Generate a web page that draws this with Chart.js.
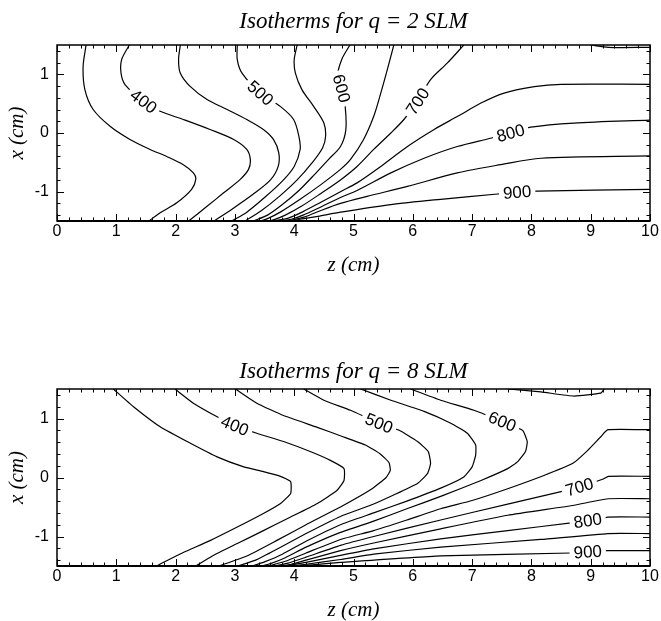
<!DOCTYPE html>
<html><head><meta charset="utf-8">
<script src="https://cdn.jsdelivr.net/npm/chart.js@4"></script>
<style>
html,body{margin:0;padding:0;background:#fff;}
#wrap{position:relative;width:661px;height:621px;background:#fff;}
.box{position:absolute;left:0;width:661px;}
</style></head><body>
<div id="wrap">
<div class="box" style="top:0;height:310px"><canvas id="c1"></canvas></div>
<div class="box" style="top:310px;height:311px"><canvas id="c2"></canvas></div>
</div>
<script>
// ---------- axis ticks ----------
const xTicks = [0,1,2,3,4,5,6,7,8,9,10];
const yTicks = [-1,0,1];

// ---------- q = 2 SLM isotherms (z, x) ----------
const q2_350 = [[0.49,1.5],[0.44,1.13],[0.47,0.74],[0.61,0.40],[0.90,0.11],[1.23,-0.11],[1.57,-0.28],[1.85,-0.40],[2.13,-0.54],[2.30,-0.68],[2.34,-0.79],[2.27,-0.96],[2.02,-1.19],[1.74,-1.36],[1.55,-1.5]];
const q2_400 = [[1.22,1.5],[1.09,1.25],[1.08,1.02],[1.15,0.82],[1.46,0.54],[1.74,0.37],[2.13,0.23],[2.58,0.06],[2.98,-0.11],[3.20,-0.28],[3.26,-0.45],[3.23,-0.62],[3.09,-0.79],[2.81,-1.02],[2.53,-1.25],[2.22,-1.5]];
const q2_450 = [[2.08,1.5],[2.05,1.25],[2.08,1.02],[2.25,0.79],[2.53,0.57],[2.87,0.40],[3.20,0.23],[3.48,0.06],[3.65,-0.11],[3.74,-0.34],[3.73,-0.57],[3.6,-0.8],[3.3,-1.05],[2.95,-1.3],[2.65,-1.5]];
const q2_500 = [[3.04,1.5],[3.04,1.25],[3.12,1.02],[3.43,0.68],[3.77,0.45],[3.99,0.23],[4.08,-0.06],[4.1,-0.28],[4.0,-0.57],[3.8,-0.82],[3.5,-1.1],[3.2,-1.35],[2.95,-1.5]];
const q2_550 = [[4.05,1.5],[4.0,1.25],[4.02,1.02],[4.13,0.74],[4.33,0.45],[4.50,0.17],[4.53,-0.05],[4.48,-0.25],[4.30,-0.51],[4.05,-0.8],[3.75,-1.08],[3.45,-1.32],[3.17,-1.5]];
const q2_600 = [[4.94,1.5],[4.80,1.25],[4.73,0.96],[4.80,0.76],[4.86,0.45],[4.87,0.05],[4.78,-0.23],[4.58,-0.45],[4.35,-0.7],[4.08,-0.98],[3.8,-1.22],[3.55,-1.4],[3.31,-1.5]];
const q2_650 = [[5.68,1.5],[5.57,1.08],[5.46,0.68],[5.34,0.28],[5.17,-0.11],[4.95,-0.45],[4.78,-0.62],[4.45,-0.88],[4.1,-1.13],[3.78,-1.34],[3.55,-1.46],[3.43,-1.5]];
const q2_700 = [[6.86,1.5],[6.58,1.19],[6.30,0.91],[6.08,0.54],[5.85,0.23],[5.63,0.0],[5.34,-0.28],[5.06,-0.57],[4.78,-0.8],[4.45,-1.03],[4.12,-1.25],[3.85,-1.4],[3.65,-1.48],[3.55,-1.5]];
const q2_750 = [[10,0.83],[8.50,0.83],[8.05,0.79],[7.54,0.68],[7.15,0.51],[6.75,0.28],[6.36,0.06],[5.91,-0.23],[5.46,-0.57],[5.06,-0.85],[4.78,-1.0],[4.45,-1.18],[4.15,-1.34],[3.9,-1.45],[3.65,-1.5]];
const q2_800 = [[10,0.22],[8.72,0.17],[7.99,0.10],[7.65,0.0],[7.31,-0.09],[6.75,-0.23],[6.19,-0.43],[5.63,-0.68],[5.06,-0.98],[4.78,-1.1],[4.45,-1.26],[4.15,-1.4],[3.95,-1.47],[3.77,-1.5]];
const q2_850 = [[10,-0.39],[8.16,-0.43],[7.48,-0.54],[6.75,-0.68],[5.91,-0.91],[5.23,-1.08],[4.78,-1.2],[4.45,-1.32],[4.18,-1.43],[3.89,-1.5]];
const q2_900 = [[10,-0.96],[8.10,-0.99],[7.76,-1.01],[7.43,-1.04],[6.47,-1.13],[5.63,-1.22],[4.78,-1.35],[4.4,-1.42],[4.1,-1.47],[3.97,-1.5]];
const q2_edge = [[9.0,1.5],[9.3,1.46],[10,1.46]];

const q2LabelText = ['400','500','600','700','800','900'];
const q2LabelZ = [1.46,3.43,4.80,6.08,7.65,7.76];
const q2LabelX = [0.54,0.68,0.76,0.54,0.0,-1.01];

// ---------- q = 8 SLM isotherms (z, x) ----------
const q8_350 = [[0.95,1.5],[1.29,1.2],[1.74,0.86],[2.25,0.58],[2.70,0.35],[3.15,0.18],[3.48,0.10],[3.77,0.02],[3.94,-0.07],[3.94,-0.27],[3.77,-0.44],[3.48,-0.61],[3.04,-0.84],[2.58,-1.07],[2.13,-1.27],[1.85,-1.41],[1.68,-1.5]];
const q8_400 = [[1.99,1.5],[2.30,1.26],[2.70,1.03],[3.0,0.88],[3.37,0.75],[3.82,0.61],[4.27,0.44],[4.61,0.29],[4.84,0.15],[4.84,-0.05],[4.72,-0.22],[4.39,-0.44],[3.94,-0.67],[3.48,-0.90],[3.04,-1.12],[2.62,-1.33],[2.34,-1.5]];
const q8_450 = [[3.01,1.5],[3.37,1.26],[3.82,1.05],[4.39,0.85],[4.8,0.7],[5.2,0.55],[5.45,0.4],[5.6,0.25],[5.62,0.12],[5.55,0.0],[5.3,-0.2],[4.78,-0.5],[4.2,-0.8],[3.7,-1.07],[3.2,-1.33],[2.73,-1.5]];
const q8_500 = [[4.16,1.5],[4.50,1.31],[4.95,1.14],[5.43,0.92],[5.77,0.80],[6.08,0.61],[6.26,0.44],[6.30,0.24],[6.25,0.07],[6.08,-0.10],[5.34,-0.45],[4.78,-0.66],[4.2,-0.95],[3.7,-1.22],[3.35,-1.4],[3.05,-1.5]];
const q8_550 = [[5.12,1.5],[5.63,1.31],[6.19,1.12],[6.64,0.92],[6.92,0.75],[7.06,0.55],[7.06,0.38],[7.0,0.18],[6.86,0.01],[6.47,-0.18],[5.9,-0.4],[5.34,-0.6],[4.78,-0.8],[4.2,-1.08],[3.8,-1.3],[3.5,-1.43],[3.3,-1.5]];
const q8_600 = [[5.96,1.5],[6.47,1.31],[7.03,1.14],[7.51,0.95],[7.85,0.80],[7.93,0.61],[7.90,0.44],[7.77,0.27],[7.6,0.15],[7.15,-0.05],[6.47,-0.32],[5.9,-0.53],[5.34,-0.74],[4.78,-0.93],[4.2,-1.18],[3.85,-1.36],[3.6,-1.46],[3.45,-1.5]];
const q8_650 = [[10,0.81],[9.29,0.81],[9.17,0.69],[8.95,0.46],[8.7,0.24],[8.2,0.03],[7.6,-0.19],[7.0,-0.39],[6.47,-0.53],[5.9,-0.72],[5.34,-0.9],[4.78,-1.05],[4.2,-1.28],[3.85,-1.42],[3.57,-1.5]];
const q8_700 = [[10,0.02],[9.3,0.02],[9.2,-0.03],[8.81,-0.16],[8.5,-0.24],[7.6,-0.45],[6.47,-0.72],[5.34,-1.0],[4.78,-1.15],[4.2,-1.35],[3.9,-1.45],[3.67,-1.5]];
const q8_750 = [[10,-0.36],[9.29,-0.36],[8.72,-0.47],[7.6,-0.64],[6.47,-0.87],[5.34,-1.11],[4.78,-1.24],[4.2,-1.4],[3.95,-1.47],[3.76,-1.5]];
const q8_800 = [[10,-0.67],[9.29,-0.67],[9.2,-0.69],[8.95,-0.73],[8.67,-0.77],[7.6,-0.9],[6.47,-1.04],[5.34,-1.21],[4.78,-1.32],[4.2,-1.44],[3.84,-1.5]];
const q8_850 = [[10,-0.95],[9.29,-0.95],[8.16,-1.05],[6.47,-1.18],[5.34,-1.3],[4.78,-1.39],[4.2,-1.47],[3.91,-1.5]];
const q8_900 = [[10,-1.24],[9.29,-1.24],[8.95,-1.26],[8.67,-1.28],[6.47,-1.33],[4.78,-1.44],[4.3,-1.48],[3.97,-1.5]];
const q8_edge = [[7.6,1.5],[8.16,1.45],[8.72,1.38],[9.17,1.43],[9.23,1.5]];

const q8LabelText = ['400','500','600','700','800','900'];
const q8LabelZ = [3.0,5.43,7.51,8.81,8.95,8.95];
const q8LabelX = [0.88,0.92,0.95,-0.16,-0.73,-1.26];

// ---------- build ----------
const q2Lines = [q2_350,q2_400,q2_450,q2_500,q2_550,q2_600,q2_650,q2_700,q2_750,q2_800,q2_850,q2_900,q2_edge];
const q2LabelLines = [q2_400,q2_500,q2_600,q2_700,q2_800,q2_900];
const q8Lines = [q8_350,q8_400,q8_450,q8_500,q8_550,q8_600,q8_650,q8_700,q8_750,q8_800,q8_850,q8_900,q8_edge];
const q8LabelLines = [q8_400,q8_500,q8_600,q8_700,q8_800,q8_900];

const SANS = '"Liberation Sans", Arial, Helvetica, sans-serif';
const SERIF = '"Liberation Serif", "Times New Roman", Times, serif';

const framePlugin = {
  id: 'frame',
  afterDatasetsDraw(chart, args, opts) {
    const ctx = chart.ctx, a = chart.chartArea, xs = chart.scales.x, ys = chart.scales.y;
    // contour labels
    ctx.save();
    ctx.font = '17px ' + SANS;
    opts.labels.forEach(L => {
      const px = xs.getPixelForValue(L.z), py = ys.getPixelForValue(L.x);
      const pts = L.line.map(p => [xs.getPixelForValue(p[0]), ys.getPixelForValue(p[1])]);
      let best = 0, bd = Infinity;
      pts.forEach((p, i) => { const d = (p[0]-px)**2 + (p[1]-py)**2; if (d < bd) { bd = d; best = i; } });
      const p0 = pts[Math.max(0, best-1)], p1 = pts[Math.min(pts.length-1, best+1)];
      let ang = Math.atan2(p1[1]-p0[1], p1[0]-p0[0]);
      if (ang > Math.PI/2) ang -= Math.PI;
      if (ang <= -Math.PI/2) ang += Math.PI;
      ctx.save();
      ctx.translate(px, py);
      ctx.rotate(ang);
      const w = ctx.measureText(L.text).width;
      ctx.fillStyle = '#fff';
      ctx.fillRect(-w/2 - 4, -8.5, w + 8, 17);
      ctx.fillStyle = '#000';
      ctx.textAlign = 'center';
      ctx.textBaseline = 'middle';
      ctx.fillText(L.text, 0, 1);
      ctx.restore();
    });
    ctx.restore();
    // inward ticks
    ctx.save();
    ctx.strokeStyle = '#000';
    ctx.lineWidth = 1;
    ctx.beginPath();
    for (let i = 0; i <= 50; i++) {
      const px = Math.round(xs.getPixelForValue(i/5)) + 0.5;
      const len = (i % 5 === 0) ? 7 : 3.5;
      ctx.moveTo(px, a.bottom); ctx.lineTo(px, a.bottom - len);
      ctx.moveTo(px, a.top); ctx.lineTo(px, a.top + len);
    }
    for (let i = -7; i <= 7; i++) {
      const py = Math.round(ys.getPixelForValue(i/5)) + 0.5;
      const len = (i % 5 === 0) ? 7 : 3.5;
      ctx.moveTo(a.left, py); ctx.lineTo(a.left + len, py);
      ctx.moveTo(a.right, py); ctx.lineTo(a.right - len, py);
    }
    ctx.stroke();
    ctx.lineWidth = 1.5;
    ctx.strokeRect(a.left, a.top, a.right - a.left, a.bottom - a.top);
    ctx.lineWidth = 2;
    ctx.beginPath(); ctx.moveTo(a.left, a.bottom); ctx.lineTo(a.right, a.bottom); ctx.stroke();
    ctx.restore();
  }
};

function makeChart(id, lines, labelText, labelZ, labelX, labelLines, titleText, cfg) {
  const labels = labelText.map((t, i) => ({ text: t, z: labelZ[i], x: labelX[i], line: labelLines[i] }));
  return new Chart(document.getElementById(id), {
    type: 'scatter',
    data: {
      datasets: lines.map(arr => ({
        data: arr.map(p => ({ x: p[0], y: p[1] })),
        showLine: true, borderColor: '#000', borderWidth: 1.2, pointRadius: 0,
        tension: cfg.tension, fill: false
      }))
    },
    options: {
      responsive: true, maintainAspectRatio: false, animation: false,
      layout: { padding: { left: 0, right: 11, top: 0, bottom: 0 } },
      plugins: {
        legend: { display: false },
        tooltip: { enabled: false },
        title: {
          display: true, text: titleText, color: '#000', fullSize: false,
          font: { family: SERIF, style: 'italic', weight: 'normal', size: 23, lineHeight: 1.2 },
          padding: { top: cfg.titleTop, bottom: cfg.titleBottom }
        },
        frame: { labels }
      },
      scales: {
        x: {
          type: 'linear', min: 0, max: 10,
          afterBuildTicks: s => { s.ticks = xTicks.map(v => ({ value: v })); },
          afterFit: s => { s.height = cfg.xHeight; },
          grid: { display: false, drawTicks: false },
          border: { display: false },
          ticks: { color: '#000', padding: 1, autoSkip: false, maxRotation: 0, font: { family: SANS, size: 16 } },
          title: { display: true, text: 'z (cm)', color: '#000',
            font: { family: SERIF, style: 'italic', size: 21, lineHeight: 1.0 },
            padding: { top: 0, bottom: cfg.xTitleBottom } }
        },
        y: {
          type: 'linear', min: -1.5, max: 1.5,
          afterBuildTicks: s => { s.ticks = yTicks.map(v => ({ value: v })); },
          afterFit: s => { s.width = 57; },
          grid: { display: false, drawTicks: false },
          border: { display: false },
          ticks: { color: '#000', padding: 8, font: { family: SANS, size: 16 } },
          title: { display: true, text: 'x (cm)', color: '#000',
            font: { family: SERIF, style: 'italic', size: 21, lineHeight: 1.0 },
            padding: { top: 6.5, bottom: 0 } }
        }
      }
    },
    plugins: [framePlugin]
  });
}

makeChart('c1', q2Lines, q2LabelText, q2LabelZ, q2LabelX, q2LabelLines, 'Isotherms for q = 2 SLM',
  { tension: 0.3, titleTop: 8.2, titleBottom: 9.2, xHeight: 89, xTitleBottom: 34.5 });
makeChart('c2', q8Lines, q8LabelText, q8LabelZ, q8LabelX, q8LabelLines, 'Isotherms for q = 8 SLM',
  { tension: 0.15, titleTop: 47.9, titleBottom: 3.5, xHeight: 55, xTitleBottom: 0.5 });
</script>
</body></html>
